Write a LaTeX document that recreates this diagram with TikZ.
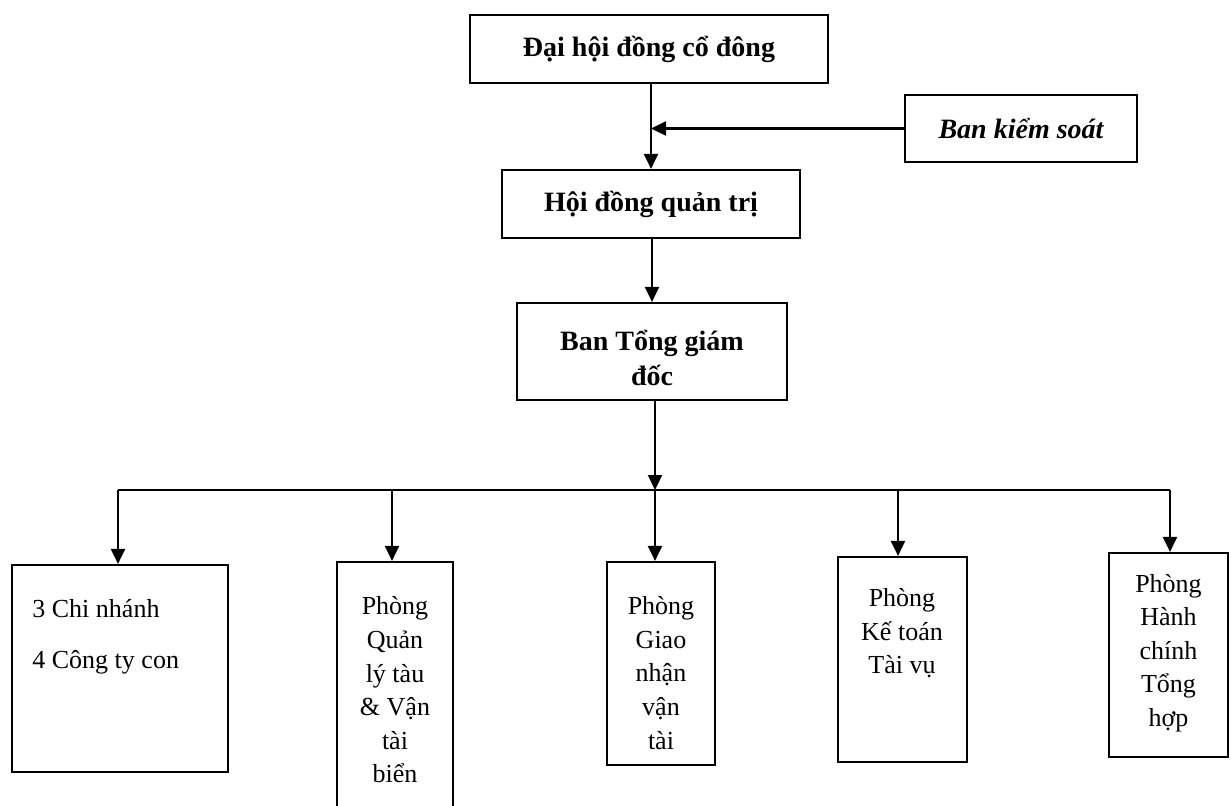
\documentclass[tikz,border=0pt]{standalone}
\usepackage{fontspec}
\setmainfont{Liberation Serif}
\usetikzlibrary{arrows.meta}
\tikzset{
  box/.style={draw, line width=1.1pt, inner sep=0pt, align=center},
  toptext/.style={font=\bfseries\fontsize{14}{17.5}\selectfont},
  dept/.style={font=\fontsize{13}{16.8}\selectfont, align=center, inner sep=0pt},
  arr/.style={line width=1.1pt, -{Triangle[length=7.5pt,width=7pt]}},
  conn/.style={line width=1.1pt}
}
\begin{document}
\begin{tikzpicture}[x=0.5pt,y=-0.5pt]
\useasboundingbox (0,0) rectangle (1231,805);
% top-level boxes
\node[box, toptext, minimum width=179pt, minimum height=34pt] (dhd) at (649,49) {Đại hội đồng cổ đông};
\node[box, font=\bfseries\itshape\fontsize{14}{17}\selectfont, minimum width=116pt, minimum height=33.5pt] (bks) at (1021,128.5) {Ban kiểm soát};
\node[box, toptext, minimum width=149pt, minimum height=34pt] (hdqt) at (651,204) {Hội đồng quản trị};
\node[box, minimum width=135pt, minimum height=48.5pt] (btgd) at (652,351.5) {};
\node[toptext, align=center, inner sep=0pt] (btgdt) at (652,358) {Ban Tổng giám\\đốc};
% departments
\node[box, minimum width=108pt, minimum height=103.5pt] (b1) at (120,668.5) {};
\node[dept, align=left, anchor=north west, font=\fontsize{13}{25.5}\selectfont] (b1t) at (32,599) {3 Chi nhánh\\4 Công ty con};
\node[box, minimum width=58pt, minimum height=134pt] (b2) at (395,696) {};
\node[dept] (b2t) at (395,690) {Phòng\\Quản\\lý tàu\\\& Vận\\tài\\biển};
\node[box, minimum width=54pt, minimum height=101.5pt] (b3) at (661,663.5) {};
\node[dept] (b3t) at (661,673) {Phòng\\Giao\\nhận\\vận\\tài};
\node[box, minimum width=64.5pt, minimum height=102.5pt] (b4) at (902.5,659.5) {};
\node[dept, anchor=north] (b4t) at (902,588) {Phòng\\Kế toán\\Tài vụ};
\node[box, minimum width=59.5pt, minimum height=102pt] (b5) at (1168.5,655) {};
\node[dept] (b5t) at (1168.5,653) {Phòng\\Hành\\chính\\Tổng\\hợp};
% bus coordinates
\coordinate (busL) at (118,490);
\coordinate (busR) at (1170,490);
\coordinate (busM) at (655,490);
% connectors
\draw[arr] (dhd.south -| hdqt.north) -- (hdqt.north);
\draw[arr] (bks.west) -- (bks.west -| hdqt.north);
\draw[arr] (hdqt.south -| btgd.north) -- (btgd.north);
\draw[arr] (btgd.south -| busM) -- (busM);
\draw[conn] (busL) -- (busR);
\draw[arr] (busL) -- (busL |- b1.north);
\draw[arr] (busL -| 392,0) -- (392,0 |- b2.north);
\draw[arr] (busM) -- (busM |- b3.north);
\draw[arr] (busL -| 898,0) -- (898,0 |- b4.north);
\draw[arr] (busR) -- (busR |- b5.north);
\end{tikzpicture}
\end{document}
